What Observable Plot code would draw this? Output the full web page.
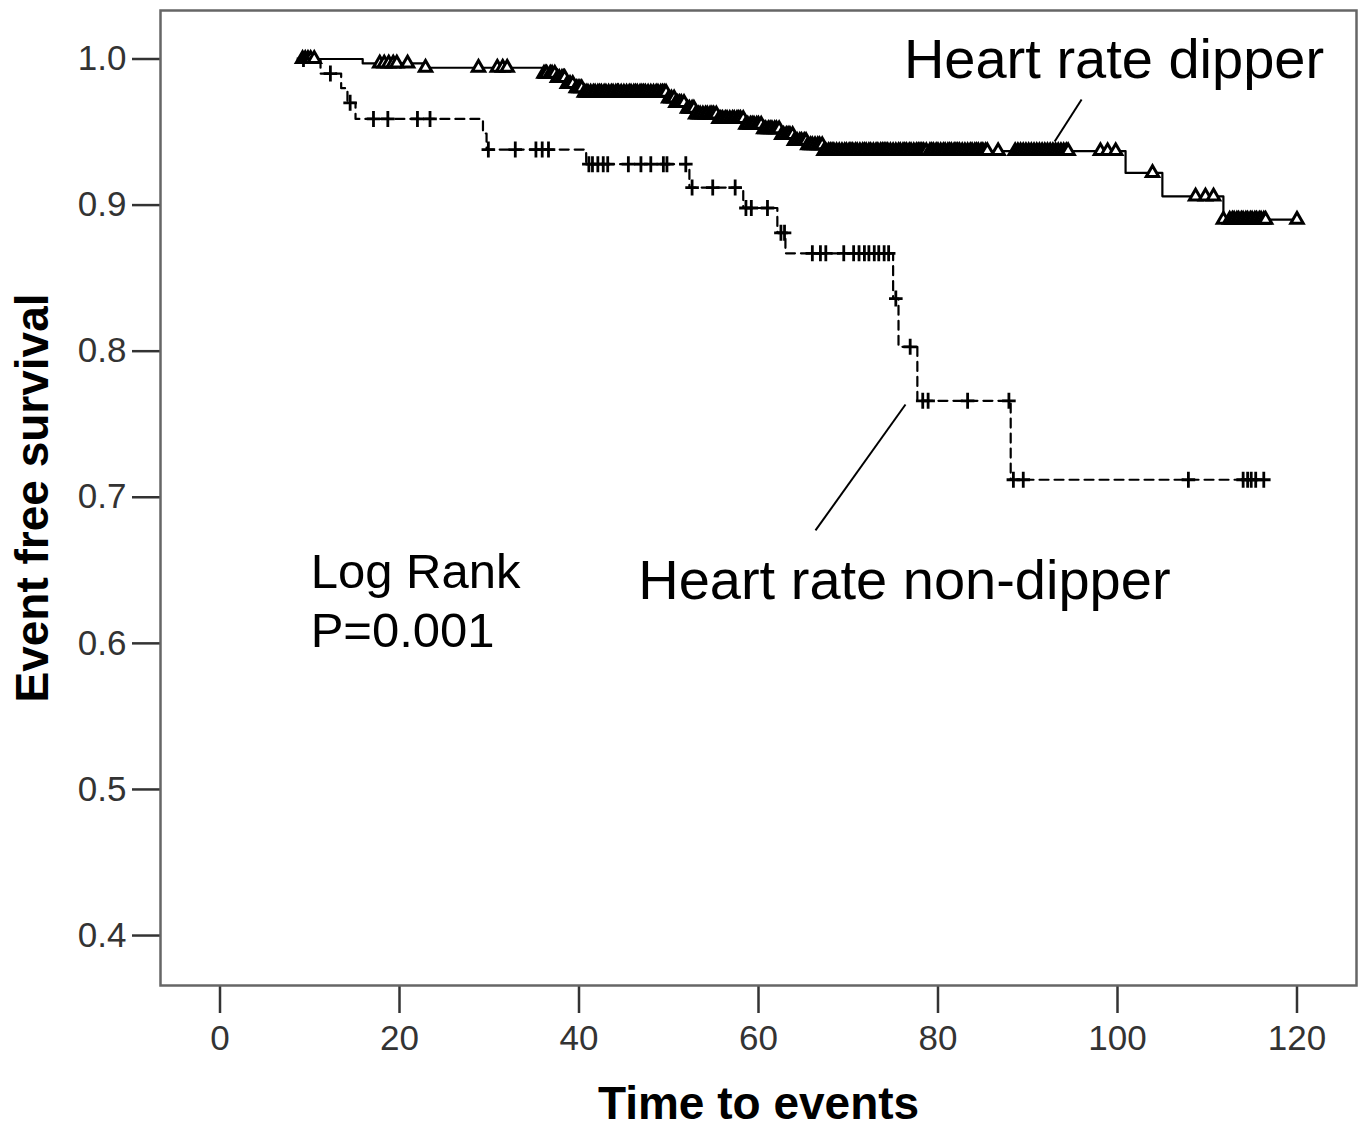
<!DOCTYPE html>
<html>
<head>
<meta charset="utf-8">
<script src="https://cdn.jsdelivr.net/npm/d3@7"></script>
<script src="https://cdn.jsdelivr.net/npm/@observablehq/plot@0.6"></script>
<style>
  html, body { margin: 0; padding: 0; background: #fff; }
  #chart { width: 1363px; height: 1127px; }
</style>
</head>
<body>
<div id="chart"></div>
<script>
// ---- Data ----
// Kaplan–Meier steps (time, event free survival)
const dipperTime = [9.0, 15.9, 22.6, 35.9, 37.4, 38.5, 39.6, 40.5, 49.8, 50.8, 52.0, 53.0, 55.5, 58.5, 60.5, 62.5, 64.0, 65.5, 67.3, 100.9, 105.0, 111.8, 120.0];
const dipperSurv = [1.000, 0.997, 0.994, 0.990, 0.987, 0.983, 0.980, 0.977, 0.973, 0.970, 0.966, 0.962, 0.959, 0.955, 0.952, 0.948, 0.944, 0.941, 0.937, 0.922, 0.906, 0.890, 0.890];

const nonDipperTime = [9.5, 11.2, 13.5, 14.2, 15.1, 29.3, 29.7, 40.8, 52.3, 58.3, 62.1, 63.0, 75.0, 75.6, 77.7, 88.1, 116.3];
const nonDipperSurv = [1.000, 0.990, 0.980, 0.970, 0.959, 0.949, 0.938, 0.928, 0.912, 0.898, 0.881, 0.867, 0.836, 0.803, 0.766, 0.712, 0.712];

// Censored observations (times)
const dipperCensor = [9.2, 9.5, 9.8, 10.1, 10.5, 17.8, 18.3, 18.8, 19.3, 19.7, 20.9, 22.9, 28.8, 30.9, 31.5, 32.0,
  36.1, 36.3, 36.4, 36.8, 37.0, 37.3, 37.6, 37.8, 38.1, 38.3, 38.4, 38.7, 39.0, 39.3, 39.7, 39.9, 40.1, 40.3, 40.6, 40.8,
  41.0, 41.3, 41.6, 41.8, 42.1, 42.3, 42.5, 42.8, 43.0, 43.3, 43.6, 43.8, 44.1, 44.3, 44.4, 44.7, 45.0, 45.3, 45.6, 45.8,
  46.1, 46.3, 46.5, 46.8, 47.0, 47.2, 47.4, 47.7, 48.0, 48.3, 48.6, 48.8, 49.1, 49.3, 49.5, 49.7, 50.0, 50.3, 50.6, 50.8,
  51.0, 51.2, 51.4, 51.7, 52.1, 52.3, 52.6, 52.8, 53.0, 53.3, 53.5, 53.8, 54.1, 54.3, 54.6, 54.8, 55.0, 55.3, 55.6, 55.8,
  56.0, 56.3, 56.5, 56.8, 57.1, 57.3, 57.6, 57.8, 58.0, 58.3, 58.6, 58.8, 59.1, 59.3, 59.5, 59.8, 60.0, 60.3, 60.6, 60.8,
  61.1, 61.3, 61.5, 61.8, 62.0, 62.3, 62.6, 62.8, 63.1, 63.3, 63.5, 63.8, 64.0, 64.3, 64.6, 64.8, 65.1, 65.3, 65.5, 65.8,
  66.0, 66.3, 66.6, 66.8, 67.1, 67.3, 67.5, 67.8, 68.0, 68.2, 68.4, 68.7, 69.0, 69.3, 69.6, 69.8, 70.1, 70.3, 70.5, 70.8,
  71.0, 71.3, 71.6, 71.8, 72.0, 72.3, 72.5, 72.8, 73.1, 73.3, 73.6, 73.8, 74.0, 74.2, 74.4, 74.7, 75.0, 75.3, 75.6, 75.8,
  76.1, 76.3, 76.5, 76.8, 77.0, 77.3, 77.6, 77.8, 78.0, 78.2, 78.4, 78.7, 79.1, 79.3, 79.5, 79.8, 80.0, 80.3, 80.6, 80.8,
  81.1, 81.3, 81.5, 81.8, 82.0, 82.2, 82.4, 82.7, 83.0, 83.3, 83.6, 83.8, 84.1, 84.3, 84.5, 84.8, 85.0, 85.3, 85.5,
  86.7, 88.6, 88.9, 89.2, 89.5, 89.8, 90.1, 90.4, 90.7, 91.0, 91.3, 91.6, 91.9, 92.2, 92.5, 92.8, 93.1, 93.4, 93.7, 94.0, 94.3, 94.5,
  98.1, 98.9, 99.8, 103.9, 108.7, 109.8, 110.7, 111.8, 112.5, 112.8, 113.0, 113.3, 113.5, 113.8, 114.0, 114.3, 114.5, 114.8,
  115.0, 115.3, 115.5, 115.8, 116.0, 116.3, 116.5, 120.0];
const nonDipperCensor = [9.3, 12.3, 14.5, 17.1, 18.7, 22.0, 23.4, 29.9, 32.9, 35.2, 35.9, 36.6,
  41.1, 41.5, 42.1, 42.7, 43.2, 45.5, 46.9, 48.0, 49.4, 49.8, 51.9, 52.6, 54.9, 57.4, 58.6, 59.2, 61.0, 62.5, 62.9,
  66.0, 66.9, 67.5, 69.5, 70.6, 71.2, 71.8, 72.3, 72.9, 73.4, 74.0, 74.5, 75.3, 76.9, 78.3, 78.9, 83.3, 87.9,
  88.4, 89.5, 107.9, 114.0, 114.5, 114.9, 115.4, 116.3];

// Axis ticks
const xTicks = [0, 20, 40, 60, 80, 100, 120];
const yTicks = [0.4, 0.5, 0.6, 0.7, 0.8, 0.9, 1.0];

// Annotations (data coordinates)
const labelText = ["Heart rate dipper", "Heart rate non-dipper", "Log Rank", "P=0.001"];
const labelTime = [76.2, 46.6, 10.1, 10.1];
const labelSurv = [0.9873, 0.6307, 0.6376, 0.5972];
const leaderFromTime = [96.0, 66.35];
const leaderFromSurv = [0.9723, 0.6773];
const leaderToTime = [93.0, 76.38];
const leaderToSurv = [0.9435, 0.7635];

// ---- Build tables ----
function survAt(times, surv, t) {
  let s = surv[0];
  for (let i = 0; i < times.length; i++) if (times[i] <= t) s = surv[i];
  return s;
}
const dipper = dipperTime.map((t, i) => ({t, s: dipperSurv[i]}));
const nonDipper = nonDipperTime.map((t, i) => ({t, s: nonDipperSurv[i]}));
const dipperMarks = dipperCensor.map(t => ({t, s: survAt(dipperTime, dipperSurv, t)}));
const nonDipperMarks = nonDipperCensor.map(t => ({t, s: survAt(nonDipperTime, nonDipperSurv, t)}));
const labels = labelText.map((text, i) => ({text, t: labelTime[i], s: labelSurv[i]}));
const leaders = leaderFromTime.map((t, i) => ({t1: t, s1: leaderFromSurv[i], t2: leaderToTime[i], s2: leaderToSurv[i]}));

const thinPlus = {
  draw(context, size) {
    const r = Math.sqrt(size / Math.PI);
    context.moveTo(-r * 0.85, 0); context.lineTo(r * 0.85, 0);
    context.moveTo(0, -r); context.lineTo(0, r);
  }
};

const FONT = "'Liberation Sans', Arial, Helvetica, sans-serif";

const chart = Plot.plot({
  width: 1363,
  height: 1127,
  marginLeft: 160,
  marginRight: 7,
  marginTop: 10,
  marginBottom: 142,
  style: {fontFamily: FONT, background: "#fff", color: "#000"},
  x: {domain: [-6.63, 126.63]},
  y: {domain: [0.3658, 1.0332]},
  marks: [
    Plot.axisX(xTicks, {tickSize: 28, tickPadding: 12, fontSize: 35, stroke: "#333", fill: "#333", strokeWidth: 2.5, label: null, tickFormat: d => String(d)}),
    Plot.axisY(yTicks, {tickSize: 28, tickPadding: 6, fontSize: 35, stroke: "#333", fill: "#333", strokeWidth: 2.5, label: null, tickFormat: d => d.toFixed(1)}),
    Plot.line(nonDipper, {x: "t", y: "s", curve: "step-after", stroke: "#000", strokeWidth: 2.2, strokeDasharray: "9,6"}),
    Plot.line(dipper, {x: "t", y: "s", curve: "step-after", stroke: "#000", strokeWidth: 2.2}),
    Plot.dot(dipperMarks, {x: "t", y: "s", symbol: "triangle", r: 4.6, fill: "#fff", stroke: "#000", strokeWidth: 3}),
    Plot.dot(nonDipperMarks, {x: "t", y: "s", symbol: thinPlus, r: 8, fill: "none", stroke: "#000", strokeWidth: 2.8}),
    Plot.link(leaders, {x1: "t1", y1: "s1", x2: "t2", y2: "s2", stroke: "#000", strokeWidth: 2}),
    Plot.text(labels.slice(0, 2), {x: "t", y: "s", text: "text", textAnchor: "start", lineAnchor: "bottom", fontSize: 56, fill: "#000"}),
    Plot.text(labels.slice(2), {x: "t", y: "s", text: "text", textAnchor: "start", lineAnchor: "bottom", fontSize: 49, fill: "#000"}),
    Plot.text(["Time to events"], {frameAnchor: "bottom", dy: 133, lineAnchor: "bottom", fontSize: 46, fontWeight: "bold", fill: "#000"}),
    Plot.text(["Event free survival"], {frameAnchor: "left", dx: -127, rotate: -90, lineAnchor: "middle", textAnchor: "middle", fontSize: 46, fontWeight: "bold", fill: "#000"}),
    Plot.frame({stroke: "#666", strokeWidth: 2.5})
  ]
});
document.getElementById("chart").appendChild(chart);
</script>
</body>
</html>
